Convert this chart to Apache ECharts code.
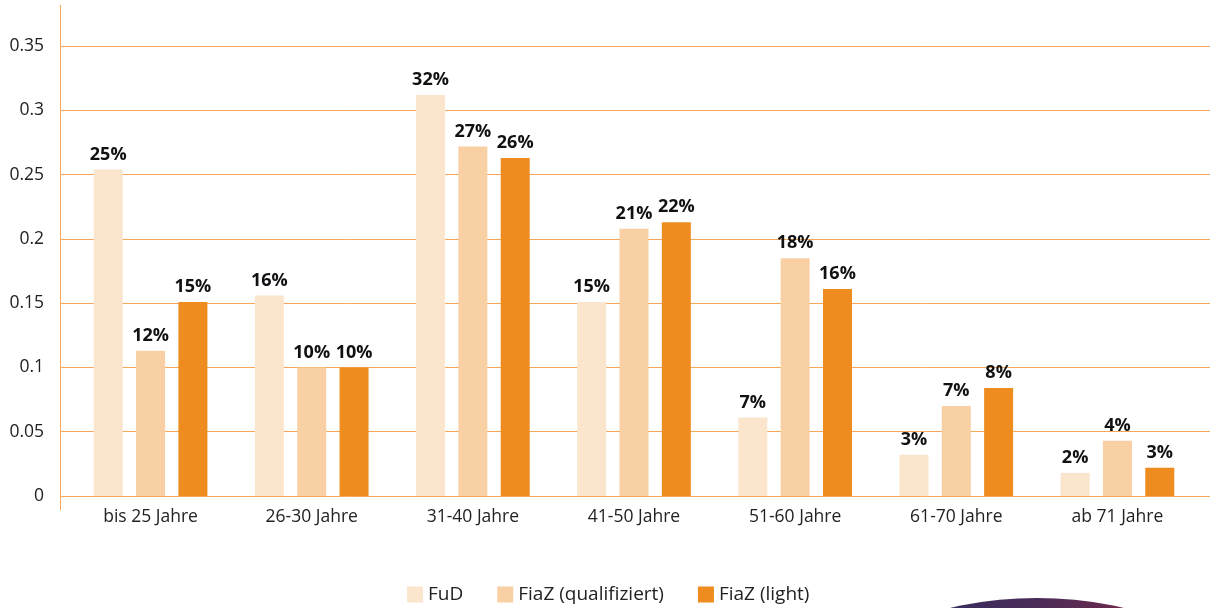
<!DOCTYPE html>
<html>
  <head>
    <meta charset="utf-8" />
    <title>Altersverteilung</title>
    <script src="https://cdn.jsdelivr.net/npm/echarts@6/dist/echarts.min.js"></script>
    <style>
      body { margin: 0; background: #fff; }
      #main { width: 1210px; height: 608px; }
    </style>
  </head>
  <body>
    <div id="main"></div>
    <script type="text/javascript">
// Altersgruppen
const categories = ['bis 25 Jahre', '26-30 Jahre', '31-40 Jahre', '41-50 Jahre', '51-60 Jahre', '61-70 Jahre', 'ab 71 Jahre'];
const seriesNames = ['FuD', 'FiaZ (qualifiziert)', 'FiaZ (light)'];

// Anteile je Serie
const fud = [0.254, 0.156, 0.312, 0.151, 0.061, 0.032, 0.018];
const fiazQual = [0.113, 0.100, 0.272, 0.208, 0.185, 0.070, 0.043];
const fiazLight = [0.151, 0.100, 0.263, 0.213, 0.161, 0.084, 0.022];

// Beschriftungen wie im Original
const fudLabels = ['25%', '16%', '32%', '15%', '7%', '3%', '2%'];
const qualLabels = ['12%', '10%', '27%', '21%', '18%', '7%', '4%'];
const lightLabels = ['15%', '10%', '26%', '22%', '16%', '8%', '3%'];

const colors = ['#fce5cd', '#f9cfa4', '#ef8c20'];
const gridColor = '#f5a657';
const font = "'Open Sans', 'Noto Sans', sans-serif";

var chartDom = document.getElementById('main');
var myChart = echarts.init(chartDom);

function makeBar(name, data, labels, color) {
  return {
    name: name,
    type: 'bar',
    xAxisIndex: 1,
    yAxisIndex: 1,
    data: data,
    barWidth: 29,
    barGap: '46%',
    itemStyle: { color: color },
    label: {
      show: true,
      position: 'top',
      distance: 6,
      fontFamily: font,
      fontWeight: 'bold',
      fontSize: 18,
      color: '#111',
      formatter: function (p) { return labels[p.dataIndex]; }
    }
  };
}

var option = {
  animation: false,
  color: colors,
  grid: [
    // Hintergrundraster über die volle Breite
    { left: 60, right: 0, top: 5, bottom: 112 },
    // Balkenbereich
    { left: 70, right: 12, top: 5, bottom: 112 }
  ],
  xAxis: [
    { gridIndex: 0, type: 'category', data: categories, show: false },
    {
      gridIndex: 1,
      type: 'category',
      data: categories,
      axisLine: { show: false },
      axisTick: { show: false },
      axisLabel: { color: '#222', fontFamily: font, fontSize: 17.5, margin: 12 }
    }
  ],
  yAxis: [
    {
      gridIndex: 0,
      type: 'value',
      min: 0,
      max: 0.382,
      interval: 0.05,
      axisLine: { show: false },
      axisTick: { show: false },
      axisLabel: { color: '#222', fontFamily: font, fontSize: 17.5, margin: 16, showMaxLabel: false },
      splitLine: { show: true, showMaxLine: false, lineStyle: { color: gridColor, width: 1 } }
    },
    {
      gridIndex: 1,
      type: 'value',
      min: 0,
      max: 0.382,
      interval: 0.05,
      show: false,
      splitLine: { show: false }
    }
  ],
  legend: {
    left: 402,
    top: 580,
    icon: 'rect',
    itemWidth: 16,
    itemHeight: 16,
    itemGap: 34,
    textStyle: { color: '#222', fontFamily: font, fontSize: 19 },
    data: seriesNames
  },
  series: [
    makeBar(seriesNames[0], fud, fudLabels, colors[0]),
    makeBar(seriesNames[1], fiazQual, qualLabels, colors[1]),
    makeBar(seriesNames[2], fiazLight, lightLabels, colors[2])
  ],
  graphic: [
    {
      type: 'line',
      shape: { x1: 60.5, y1: 5, x2: 60.5, y2: 510 },
      style: { stroke: gridColor, lineWidth: 1 }
    },
    {
      type: 'circle',
      shape: { cx: 1037, cy: 981, r: 383 },
      style: {
        fill: {
          type: 'linear', x: 0, y: 0, x2: 1, y2: 0,
          colorStops: [
            { offset: 0, color: '#2a2f66' },
            { offset: 0.38, color: '#382d5e' },
            { offset: 0.5, color: '#4a2b58' },
            { offset: 0.62, color: '#6e2a4d' },
            { offset: 1, color: '#8a2a44' }
          ]
        }
      }
    }
  ]
};

myChart.setOption(option);
    </script>
  </body>
</html>
